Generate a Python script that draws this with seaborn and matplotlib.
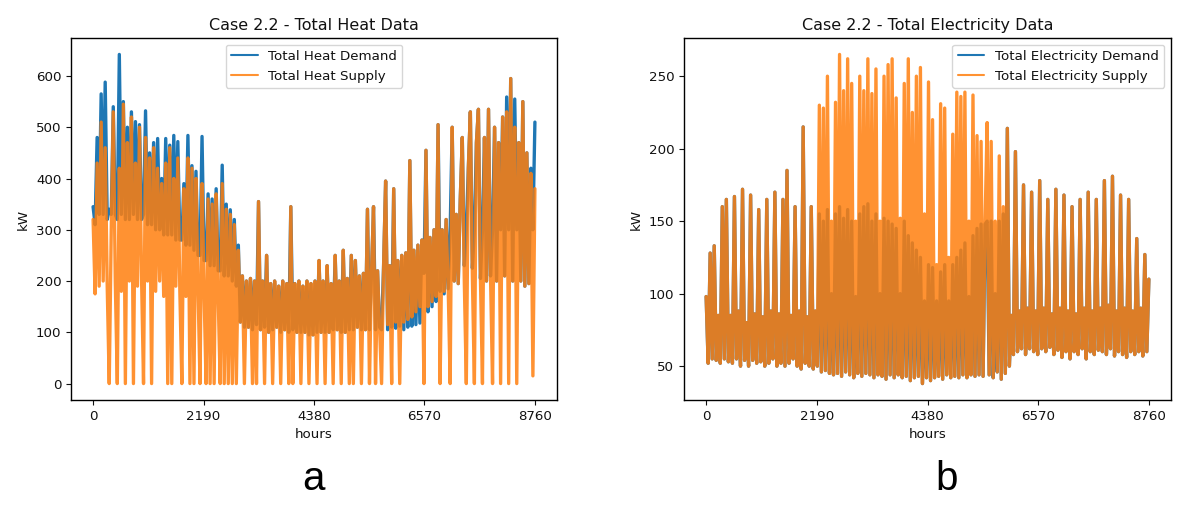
import matplotlib
matplotlib.use("Agg")
import matplotlib.pyplot as plt
import numpy as np
import seaborn as sns

# ---- data (one sample every 40 h, 0 .. 8760) ----
HOURS = np.arange(0, 8761, 40)
XTICKS = [0, 2190, 4380, 6570, 8760]

HEAT_DEMAND = [
    345, 310, 480, 330, 565, 330, 588, 320, 340, 330,
    540, 330, 320, 642, 330, 550, 320, 500, 320, 530,
    330, 511, 320, 505, 320, 330, 532, 310, 450, 310,
    470, 300, 478, 300, 400, 290, 478, 290, 465, 290,
    484, 280, 472, 280, 280, 390, 270, 484, 270, 425,
    260, 414, 250, 250, 482, 240, 240, 370, 230, 360,
    230, 380, 220, 220, 426, 210, 350, 210, 339, 200,
    320, 190, 270, 120,
    # summer (from h 2960)
    210, 110, 200, 110, 205, 105, 200, 115, 355, 105,
    200, 110, 250, 100, 195, 105, 200, 110, 190, 100,
    200, 105, 195, 100, 345, 105, 195, 100, 200, 100,
    190, 100, 200, 95, 195, 95, 200, 100, 240, 100,
    200, 100, 230, 100, 195, 105, 250, 105, 200, 100,
    260, 100, 205, 105, 250, 105, 240, 110, 210, 105,
    215, 105, 340, 105, 215, 345, 105, 220, 110, 105,
    230, 395, 105, 230,
    # autumn (from h 5920)
    110, 380, 108, 240, 112, 250, 105, 255, 110, 435,
    112, 260, 115, 270, 118, 280, 215, 455, 140, 285,
    150, 300, 160, 505, 180, 300, 175, 320, 185, 300,
    500, 200, 330, 195, 360, 480, 230, 300, 420, 530,
    225, 300, 470, 535, 205, 300, 480, 200, 535, 210,
    300, 500, 200, 470, 300, 520, 210, 559, 300, 595,
    200, 555, 300, 470, 200, 550, 190, 450, 195, 420,
    300, 510,
]

HEAT_SUPPLY = [
    320, 175, 430, 190, 510, 200, 460, 190, 0, 300,
    530, 200, 0, 420, 180, 545, 0, 470, 200, 520,
    0, 430, 190, 500, 210, 0, 480, 200, 440, 0,
    460, 180, 420, 200, 390, 170, 430, 0, 460, 0,
    400, 190, 440, 180, 0, 380, 170, 440, 0, 420,
    0, 400, 190, 0, 390, 180, 0, 360, 0, 350,
    0, 370, 170, 0, 390, 0, 340, 0, 330, 0,
    310, 0, 260, 120,
    # summer (from h 2960)
    210, 0, 200, 110, 205, 0, 200, 0, 355, 105,
    200, 0, 250, 100, 195, 0, 200, 110, 190, 0,
    200, 105, 195, 0, 345, 0, 195, 100, 200, 0,
    190, 100, 200, 0, 195, 95, 200, 0, 240, 100,
    200, 0, 230, 100, 195, 0, 250, 105, 200, 0,
    260, 100, 205, 0, 250, 0, 240, 110, 210, 0,
    215, 105, 340, 0, 215, 345, 0, 220, 110, 0,
    230, 395, 115, 230,
    # autumn (from h 5920)
    0, 380, 120, 240, 0, 250, 120, 255, 125, 435,
    130, 260, 140, 270, 150, 280, 0, 455, 150, 285,
    160, 300, 170, 505, 0, 300, 180, 320, 190, 0,
    500, 200, 330, 195, 360, 480, 200, 0, 420, 530,
    210, 0, 470, 535, 205, 0, 480, 200, 535, 210,
    0, 500, 200, 470, 0, 520, 210, 530, 0, 595,
    200, 500, 0, 470, 200, 550, 190, 450, 195, 410,
    15, 380,
]

ELEC_DEMAND = [
    98, 52, 128, 55, 133, 54, 85, 52, 160, 55,
    165, 53, 85, 52, 167, 55, 88, 50, 172, 54,
    80, 50, 168, 54, 86, 52, 158, 53, 84, 50,
    165, 52, 88, 55, 170, 50, 86, 52, 165, 50,
    185, 52, 85, 55, 160, 50, 88, 48, 215, 52,
    84, 50, 160, 48, 88,
    # summer (from h 2200)
    50, 155, 46, 150, 47, 158, 45, 100, 44, 155,
    45, 160, 43, 152, 46, 158, 44, 150, 42, 98,
    45, 155, 43, 160, 45, 162, 44, 150, 42, 155,
    44, 100, 43, 152, 41, 150, 44, 148, 42, 145,
    44, 100, 42, 150, 43, 140, 40, 135, 42, 130,
    43, 125, 38, 95, 42, 120, 40, 118, 42, 95,
    43, 115, 41, 120, 44, 95, 42, 120, 43, 125,
    42, 130, 44, 135, 42, 98, 44, 140, 43, 145,
    44, 148, 43, 148, 150, 44, 150, 42, 100, 46,
    150, 41, 155,
    # autumn (from h 5920)
    45, 214, 50, 85, 58, 198, 60, 88, 62, 175,
    58, 90, 62, 170, 60, 88, 58, 178, 62, 90,
    60, 165, 63, 86, 58, 172, 61, 90, 56, 168,
    60, 88, 55, 160, 60, 86, 58, 165, 62, 90,
    55, 170, 60, 88, 58, 165, 61, 90, 60, 178,
    58, 92, 62, 181, 57, 88, 60, 168, 58, 90,
    56, 165, 60, 88, 58, 138, 60, 90, 57, 127,
    60, 110,
]

ELEC_SUPPLY = [
    98, 52, 128, 55, 133, 54, 85, 52, 160, 55,
    165, 53, 85, 52, 167, 55, 88, 50, 172, 54,
    80, 50, 168, 54, 86, 52, 158, 53, 84, 50,
    165, 52, 88, 55, 170, 50, 86, 52, 165, 50,
    185, 52, 85, 55, 160, 50, 88, 48, 215, 52,
    84, 50, 160, 48, 88,
    # summer (from h 2200)
    50, 230, 46, 228, 47, 250, 45, 150, 44, 232,
    45, 265, 43, 240, 46, 262, 44, 245, 42, 150,
    45, 250, 43, 240, 45, 262, 44, 238, 42, 255,
    44, 150, 43, 250, 41, 258, 44, 262, 42, 235,
    44, 152, 42, 245, 43, 262, 40, 225, 42, 250,
    43, 256, 38, 155, 42, 246, 40, 220, 42, 120,
    43, 231, 41, 228, 44, 125, 42, 210, 43, 239,
    42, 236, 44, 239, 42, 150, 44, 237, 43, 209,
    44, 205, 43, 150, 218, 44, 205, 42, 150, 46,
    195, 41, 160,
    # autumn (from h 5920)
    45, 214, 50, 85, 58, 198, 60, 88, 62, 175,
    58, 90, 62, 170, 60, 88, 58, 178, 62, 90,
    60, 165, 63, 86, 58, 172, 61, 90, 56, 168,
    60, 88, 55, 160, 60, 86, 58, 165, 62, 90,
    55, 170, 60, 88, 58, 165, 61, 90, 60, 178,
    58, 92, 62, 181, 57, 88, 60, 168, 58, 90,
    56, 165, 60, 88, 58, 138, 60, 90, 57, 127,
    60, 110,
]

for s in (HEAT_DEMAND, HEAT_SUPPLY, ELEC_DEMAND, ELEC_SUPPLY):
    assert len(s) == len(HOURS), len(s)

# ---- style ----
sns.set_theme(style="ticks")
plt.rcParams.update({
    "font.family": ["DejaVu Sans"],
    "axes.edgecolor": "black",
    "axes.linewidth": 1.0,
    "xtick.labelsize": 9.6,
    "ytick.labelsize": 9.6,
    "axes.labelsize": 9.6,
    "axes.titlesize": 11.5,
    "legend.fontsize": 9.6,
    "xtick.major.size": 3.5,
    "ytick.major.size": 3.5,
    "xtick.major.width": 0.8,
    "ytick.major.width": 0.8,
    "text.color": "#111",
    "axes.labelcolor": "#111",
    "xtick.color": "#111",
    "ytick.color": "#111",
})

DEMAND_C = "tab:blue"
SUPPLY_C = "tab:orange"
LW = 2.4

fig = plt.figure(figsize=(11.9, 5.08), dpi=100)
ax_h = fig.add_axes([71 / 1190, 108 / 508, 486 / 1190, 362 / 508])
ax_e = fig.add_axes([684 / 1190, 108 / 508, 487 / 1190, 362 / 508])


def draw(ax, demand, supply, name, legend_loc):
    sns.lineplot(x=HOURS, y=demand, ax=ax, color=DEMAND_C, linewidth=LW,
                 estimator=None, label=f"Total {name} Demand")
    sns.lineplot(x=HOURS, y=supply, ax=ax, color=SUPPLY_C, linewidth=LW,
                 alpha=0.85, estimator=None, label=f"Total {name} Supply")
    ax.set_title(f"Case 2.2 - Total {name} Data")
    ax.set_xlabel("hours")
    ax.set_ylabel("kW")
    ax.set_xticks(XTICKS)
    leg = ax.legend(loc=legend_loc, frameon=True, fancybox=True,
                    edgecolor="#ccc", framealpha=0.8)
    for line in leg.get_lines():
        line.set_linewidth(1.5)


draw(ax_h, HEAT_DEMAND, HEAT_SUPPLY, "Heat", "upper center")
draw(ax_e, ELEC_DEMAND, ELEC_SUPPLY, "Electricity", "upper right")

fig.text(314 / 1190, 1 - 490 / 508, "a", ha="center", va="baseline",
         fontsize=29, family="Liberation Sans", color="black")
fig.text(947 / 1190, 1 - 490 / 508, "b", ha="center", va="baseline",
         fontsize=29, family="Liberation Sans", color="black")

fig.savefig("out.png", dpi=100)
